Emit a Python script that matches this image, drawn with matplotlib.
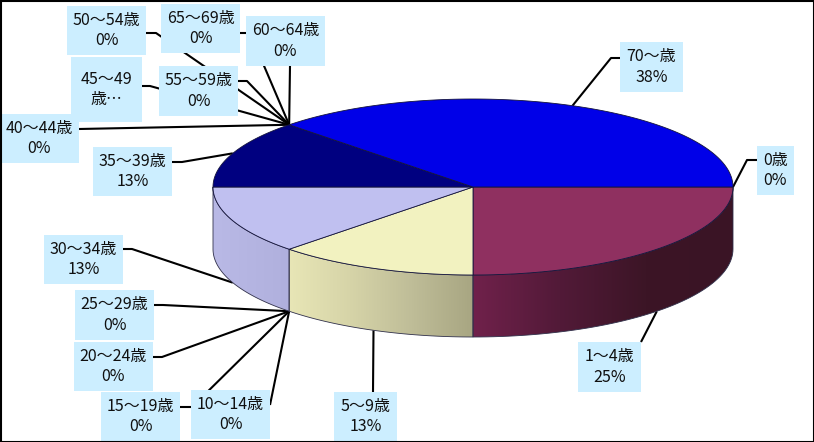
#!/usr/bin/env python3
"""Age group pie chart drawn as a tilted 3D disc with callout labels."""

import numpy as np
import matplotlib
matplotlib.use('Agg')
import matplotlib.pyplot as plt
from matplotlib.colors import LinearSegmentedColormap
from matplotlib.patches import Polygon, Rectangle

plt.rcParams['font.family'] = ['Noto Sans CJK JP', 'DejaVu Sans']

# data, clockwise from the east point of the disc
categories = ['0歳', '1～4歳', '5～9歳', '10～14歳', '15～19歳', '20～24歳',
              '25～29歳', '30～34歳', '35～39歳', '40～44歳', '45～49\n歳…',
              '50～54歳', '55～59歳', '60～64歳', '65～69歳', '70～歳']
values = [0, 2, 1, 0, 0, 0, 0, 1, 1, 0, 0, 0, 0, 0, 0, 3]
percents = ['0%', '25%', '13%', '0%', '0%', '0%', '0%', '13%', '13%',
            '0%', None, '0%', '0%', '0%', '0%', '38%']

top_colors = ['#000000', '#8f3060', '#f2f2c0', '#000000', '#000000', '#000000',
              '#000000', '#c0c0f0', '#000080', '#000000', '#000000', '#000000',
              '#000000', '#000000', '#000000', '#0000e8']
side_ramps = {1: ['#70214b', '#521a38', '#3c1526', '#3a1425'],
              2: ['#e8e6b6', '#d6d4a8', '#bfbd98', '#a8a682'],
              7: ['#b9b9e6', '#b0b0dd']}

# layout in pixels
CX, CY, RX, RY, DEPTH = 473, 187, 260, 88, 62
boxes = [(757, 146, 794, 195), (578, 342, 641, 392), (334, 392, 397, 441),
         (191, 390, 270, 439), (101, 392, 180, 441), (74, 342, 153, 391),
         (75, 290, 154, 340), (44, 235, 123, 284), (93, 147, 172, 196),
         (0, 114, 79, 163), (71, 57, 142, 122), (67, 6, 146, 55),
         (159, 66, 238, 116), (246, 16, 325, 66), (161, 4, 240, 53),
         (620, 42, 683, 92)]
elbows = [[(747, 160), (757, 160)], [(641, 342)], [(373, 392)],
          [(270, 405)], [(192, 407), (180, 407)], [(162, 357), (153, 357)],
          [(163, 305), (154, 305)], [(132, 249), (123, 249)],
          [(182, 162), (172, 162)], [(79, 129)], [(150, 86), (142, 86)],
          [(156, 33), (146, 33)], [(247, 81), (238, 81)], [(290, 66)],
          [(250, 33), (240, 33)], [(611, 58), (620, 58)]]


def ellipse(deg, drop=0):
    """Pixel position on the disc rim for an angle in degrees."""
    rad = np.radians(deg)
    return CX + RX * np.cos(rad), CY - RY * np.sin(rad) + drop


def anchor(deg):
    """Where a leader line meets the disc: rim on top, lower edge in front."""
    return ellipse(deg, DEPTH if np.sin(np.radians(deg)) < -1e-6 else 0)


shares = np.array(values) / sum(values) * 360
ends = -np.cumsum(shares)
starts = ends + shares
mids = (starts + ends) / 2

fig = plt.figure(figsize=(8.14, 4.42), dpi=100)
ax = fig.add_axes([0, 0, 1, 1])
ax.set_xlim(0, 814)
ax.set_ylim(442, 0)
ax.axis('off')

# leader lines go underneath everything else
for i, pts in enumerate(elbows):
    px, py = zip(anchor(mids[i]), *pts)
    ax.plot(px, py, color='black', lw=1.5, zorder=1, solid_capstyle='butt')

# side wall of the disc, only the wedges facing the viewer
for i, ramp in side_ramps.items():
    lo = max(ends[i], -180)
    hi = min(starts[i], 0)
    arc = np.linspace(lo, hi, 60)
    upper = [ellipse(a) for a in arc]
    lower = [ellipse(a, DEPTH) for a in arc[::-1]]
    poly = Polygon(upper + lower, closed=True, fc='none', ec='#30304a',
                   lw=0.6, zorder=3)
    ax.add_patch(poly)
    xs = [p[0] for p in upper]
    cmap = LinearSegmentedColormap.from_list('side', ramp)
    grad = np.linspace(0, 1, 256).reshape(1, -1)
    img = ax.imshow(grad, cmap=cmap, aspect='auto', zorder=2,
                    extent=(min(xs), max(xs), CY + RY + DEPTH, CY))
    clip = Polygon(upper + lower, closed=True, transform=ax.transData)
    img.set_clip_path(clip)
ax.set_xlim(0, 814)
ax.set_ylim(442, 0)

# top face
for i, val in enumerate(values):
    if val == 0:
        continue
    arc = np.linspace(starts[i], ends[i], 120)
    pts = [(CX, CY)] + [ellipse(a) for a in arc]
    ax.add_patch(Polygon(pts, closed=True, fc=top_colors[i], ec='#14143c',
                         lw=0.6, zorder=4))

# callout boxes
for i, (x0, y0, x1, y1) in enumerate(boxes):
    ax.add_patch(Rectangle((x0, y0), x1 - x0, y1 - y0, fc='#cceeff', ec='none',
                           zorder=5))
    label = categories[i]
    if percents[i] is not None:
        label += '\n' + percents[i]
    ax.text((x0 + x1) / 2, (y0 + y1) / 2, label, ha='center', va='center',
            fontsize=11.5, linespacing=1.25, color='#101010', zorder=6)

ax.add_patch(Rectangle((0.5, 0.5), 813, 441, fc='none', ec='black', lw=1.5,
                       zorder=7))

fig.savefig('out.png', dpi=100)
